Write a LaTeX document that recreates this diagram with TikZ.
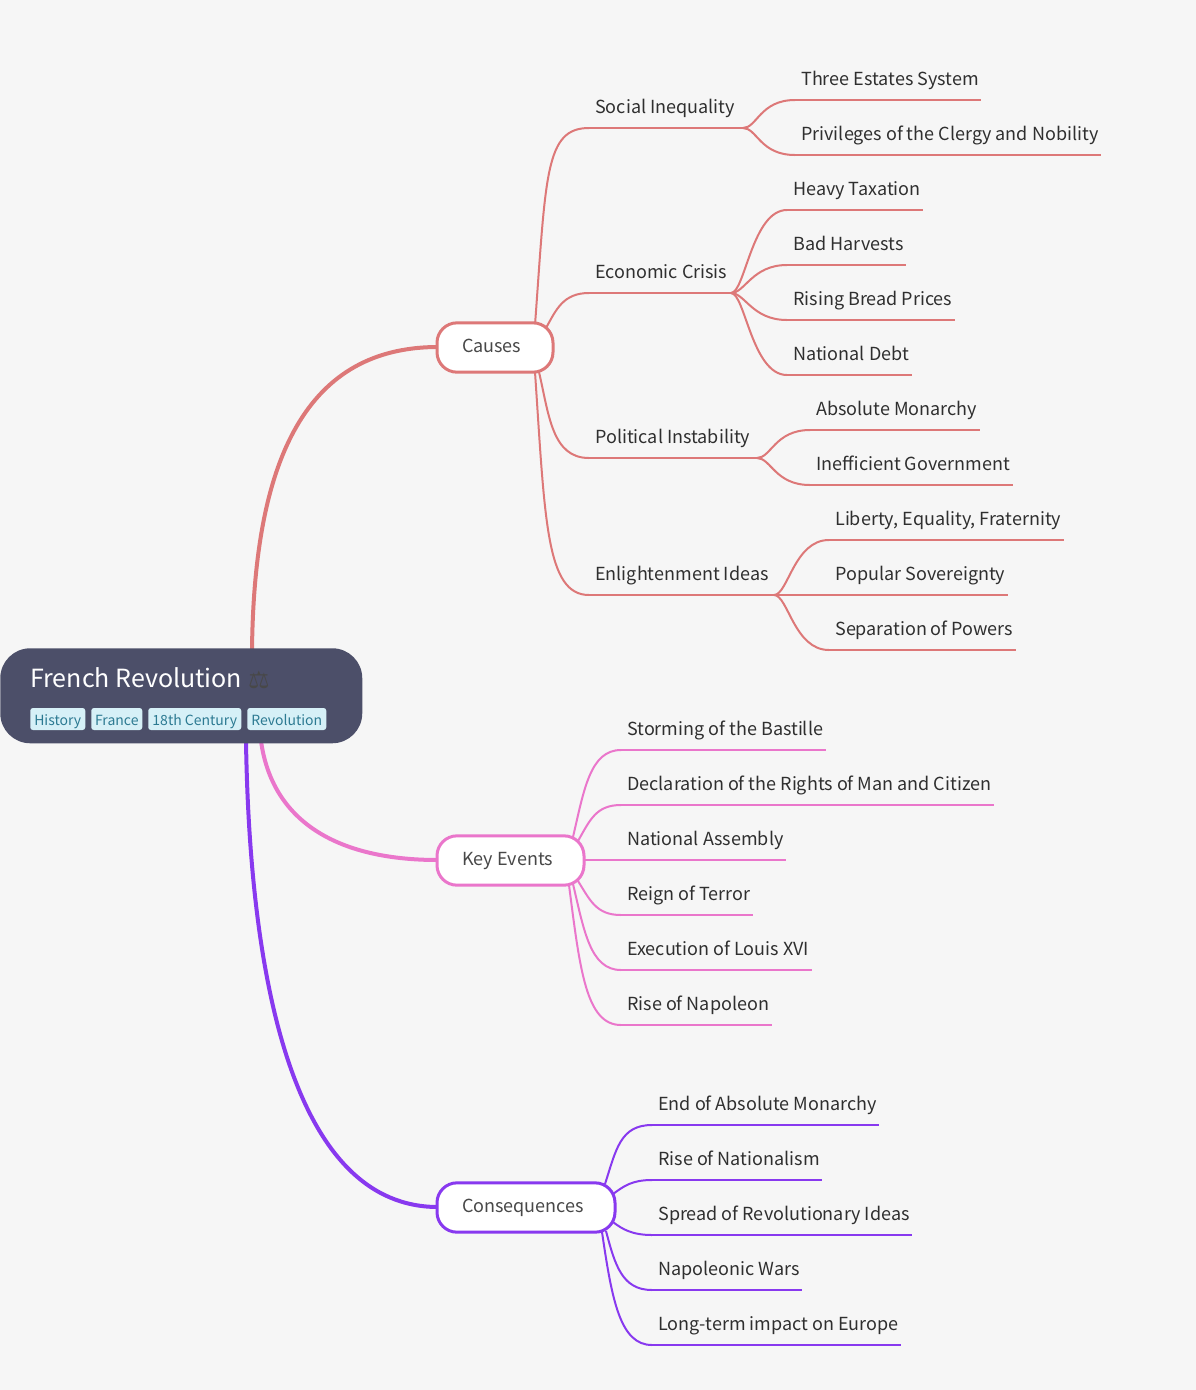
\documentclass[tikz,border=0pt]{standalone}
\usepackage{fontspec}
\setmainfont{Noto Sans CJK SC}
\newfontfamily\emojifont{DejaVu Sans}
\usetikzlibrary{calc}
\definecolor{bgc}{HTML}{F6F6F6}
\definecolor{rootc}{HTML}{4C4F69}
\definecolor{redc}{HTML}{DD7878}
\definecolor{pinkc}{HTML}{EA76CB}
\definecolor{purpc}{HTML}{8839EF}
\definecolor{leaft}{HTML}{2F2F2F}
\definecolor{boxt}{HTML}{484848}
\definecolor{tagbg}{HTML}{D6F0F7}
\definecolor{tagt}{HTML}{2C7A92}
\tikzset{
  x=0.75pt,y=-0.75pt,
  leaftext/.style={anchor=base west,inner sep=0pt,text=leaft,font=\fontsize{13.5}{16}\selectfont},
  mainline/.style={line width=3pt,line cap=round},
  subline/.style={line width=1.5pt,line cap=butt},
  topicbox/.style={draw,line width=2.25pt,fill=white,rounded corners=15pt,minimum height=37pt,inner ysep=0pt,inner xsep=18.75pt,anchor=center,text=boxt,align=left,font=\fontsize{13.5}{16}\selectfont,text height=11pt,text depth=3pt},
  tagbox/.style={anchor=west,fill=tagbg,text=tagt,rounded corners=2pt,inner xsep=0pt,inner ysep=0pt,minimum height=16.5pt,align=center,font=\fontsize{10.5}{12}\selectfont,text height=10pt,text depth=1pt},
}
% \leaf{name}{text x}{line y}{line end x}{text}{colour}
\newcommand{\leaf}[6]{%
  \node[leaftext] (#1) at (#2,#3-15) {#5};
  \coordinate (#1-a) at (#2-6,#3);
  \coordinate (#1-b) at (#4,#3);
  \draw[subline,#6] (#1-a) -- (#1-b);
}
\newcommand{\sway}[3]{%
  \draw[subline,#3] (#1) .. controls ($(#1)+(14,0)$) and ($(#2-a)+(-35,0)$) .. (#2-a);
}
\begin{document}
\begin{tikzpicture}
\useasboundingbox (0,0) rectangle (1196,1390);
\fill[bgc] (0,0) rectangle (1196,1390);

% anchors of the connectors on the nodes
\coordinate (rA) at (252,650);
\coordinate (rB) at (261,741);
\coordinate (rC) at (246,741);
\coordinate (cL) at (438,347);
\coordinate (kL) at (438,860);
\coordinate (qL) at (438,1207);

% main branches
\draw[mainline,redc] (rA) .. controls (254,470) and (300,347) .. (cL);
\draw[mainline,pinkc] (rB) .. controls (272,820) and (335,860) .. (kL);
\draw[mainline,purpc] (rC) .. controls (250,1000) and (300,1207) .. (qL);

% sub-topics of Causes
\leaf{si}{595}{128}{743}{Social Inequality}{redc}
\leaf{ec}{595}{293}{731}{Economic Crisis}{redc}
\leaf{pi}{595}{458}{757}{Political Instability}{redc}
\leaf{ei}{595}{595}{774}{Enlightenment Ideas}{redc}
\draw[subline,redc] (535,325) .. controls (546,175) and (545,128) .. (si-a);
\draw[subline,redc] (546,328) .. controls (556,310) and (563,293) .. (ec-a);
\draw[subline,redc] (539,372) .. controls (549,415) and (552,458) .. (pi-a);
\draw[subline,redc] (535,372) .. controls (545,520) and (546,595) .. (ei-a);

% leaves of Causes
\leaf{l1}{801}{100}{981}{Three Estates System}{redc}
\leaf{l2}{801}{155}{1101}{Privileges of the Clergy and Nobility}{redc}
\sway{si-b}{l1}{redc}\sway{si-b}{l2}{redc}
\leaf{l3}{793}{210}{923}{Heavy Taxation}{redc}
\leaf{l4}{793}{265}{906}{Bad Harvests}{redc}
\leaf{l5}{793}{320}{955}{Rising Bread Prices}{redc}
\leaf{l6}{793}{375}{912}{National Debt}{redc}
\sway{ec-b}{l3}{redc}\sway{ec-b}{l4}{redc}\sway{ec-b}{l5}{redc}\sway{ec-b}{l6}{redc}
\leaf{l7}{816}{430}{980}{Absolute Monarchy}{redc}
\leaf{l8}{816}{485}{1013}{Inefficient Government}{redc}
\sway{pi-b}{l7}{redc}\sway{pi-b}{l8}{redc}
\leaf{l9}{835}{540}{1064}{Liberty, Equality, Fraternity}{redc}
\leaf{l10}{835}{595}{1008}{Popular Sovereignty}{redc}
\leaf{l11}{835}{650}{1016}{Separation of Powers}{redc}
\sway{ei-b}{l9}{redc}\sway{ei-b}{l10}{redc}\sway{ei-b}{l11}{redc}

% leaves of Key Events
\leaf{k1}{627}{750}{826}{Storming of the Bastille}{pinkc}
\leaf{k2}{627}{805}{994}{Declaration of the Rights of Man and Citizen}{pinkc}
\leaf{k3}{627}{860}{786}{National Assembly}{pinkc}
\leaf{k4}{627}{915}{753}{Reign of Terror}{pinkc}
\leaf{k5}{627}{970}{812}{Execution of Louis XVI}{pinkc}
\leaf{k6}{627}{1025}{772}{Rise of Napoleon}{pinkc}
\draw[subline,pinkc] (573,837) .. controls (584,790) and (590,750) .. (k1-a);
\draw[subline,pinkc] (578,841) .. controls (590,820) and (596,805) .. (k2-a);
\draw[subline,pinkc] (583,860) -- (k3-a);
\draw[subline,pinkc] (578,881) .. controls (590,900) and (596,915) .. (k4-a);
\draw[subline,pinkc] (573,884) .. controls (584,930) and (590,970) .. (k5-a);
\draw[subline,pinkc] (569,885) .. controls (580,970) and (586,1025) .. (k6-a);

% leaves of Consequences
\leaf{q1}{658}{1125}{879}{End of Absolute Monarchy}{purpc}
\leaf{q2}{658}{1180}{822}{Rise of Nationalism}{purpc}
\leaf{q3}{658}{1235}{912}{Spread of Revolutionary Ideas}{purpc}
\leaf{q4}{658}{1290}{802}{Napoleonic Wars}{purpc}
\leaf{q5}{658}{1345}{901}{Long-term impact on Europe}{purpc}
\draw[subline,purpc] (605,1184) .. controls (616,1150) and (620,1125) .. (q1-a);
\draw[subline,purpc] (613,1194) .. controls (624,1186) and (632,1180) .. (q2-a);
\draw[subline,purpc] (613,1222) .. controls (622,1229) and (632,1235) .. (q3-a);
\draw[subline,purpc] (606,1231) .. controls (615,1265) and (622,1290) .. (q4-a);
\draw[subline,purpc] (602,1232) .. controls (612,1300) and (620,1345) .. (q5-a);

% topic boxes
\node[topicbox,draw=redc,text width=49.5pt] (causes) at (495,347.5) {Causes};
\node[topicbox,draw=pinkc,text width=72.75pt] (keyev) at (510.5,860.5) {Key\hspace{3.4pt}Events};
\node[topicbox,draw=purpc,text width=96pt] (conseq) at (526,1207.5) {Consequences};

% root
\node[fill=rootc,rounded corners=22.5pt,minimum width=271.5pt,minimum height=71.25pt,inner sep=0pt,anchor=north west] (root) at (0,648) {};
\node[anchor=base west,inner sep=0pt,text=white,font=\fontsize{18.75}{22}\selectfont] (title) at (30,687) {French Revolution};
\node[anchor=center,inner sep=0pt,text=boxt,font=\emojifont\fontsize{18}{20}\selectfont] (scale) at (259,680) {⚖};
\node[tagbox,minimum width=41.25pt] (t1) at (30,719) {History};
\node[tagbox,minimum width=38.25pt] (t2) at (91,719) {France};
\node[tagbox,minimum width=69.75pt] (t3) at (148,719) {18th Century};
\node[tagbox,minimum width=59.25pt] (t4) at (247,719) {Revolution};
\end{tikzpicture}
\end{document}
